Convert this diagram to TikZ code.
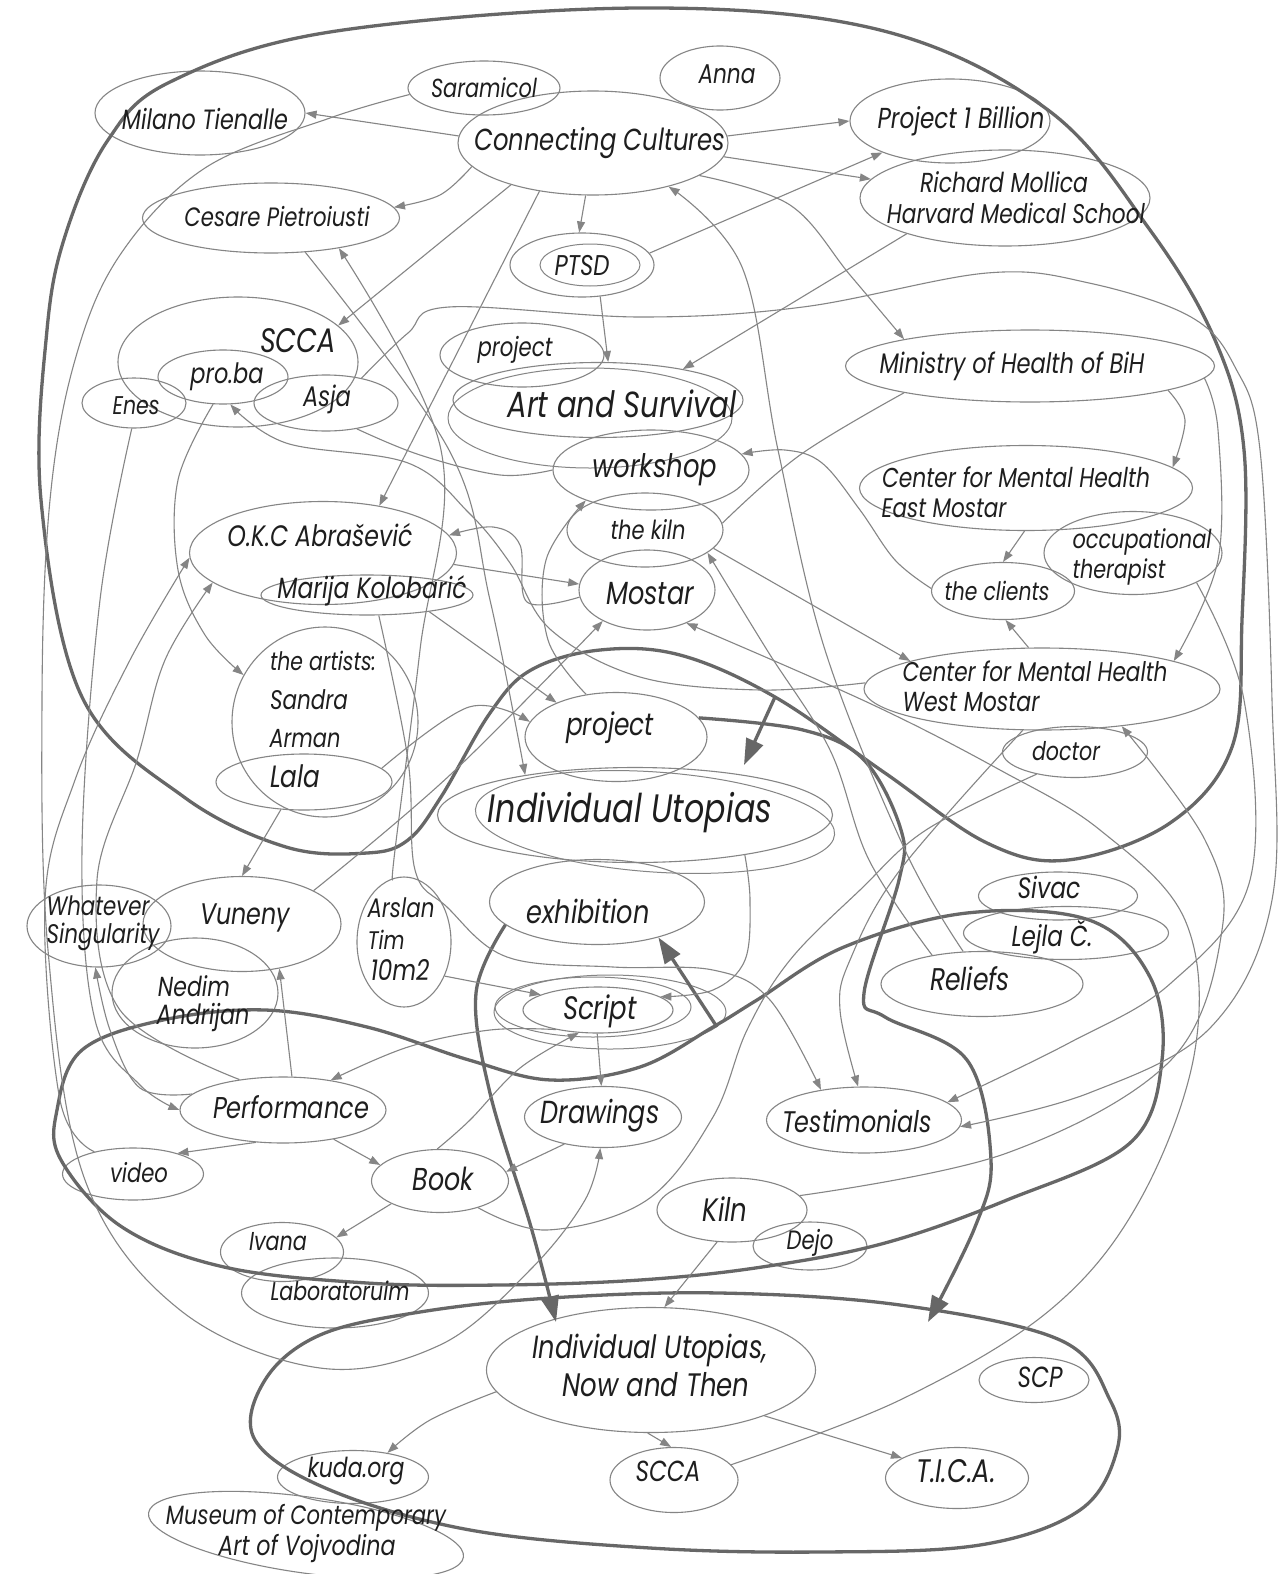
\documentclass[tikz,border=0pt]{standalone}
\usepackage{graphicx}
\usepackage{fontspec}
\setmainfont{Poppins}
\usetikzlibrary{shapes.geometric,arrows.meta}
\definecolor{ln}{HTML}{858585}
\definecolor{lk}{HTML}{676767}
\definecolor{ink}{HTML}{1E1E1E}
\newcommand{\fw}[2]{\resizebox{#1pt}{!}{\scalebox{0.8}[1]{\fontsize{24}{28}\selectfont\itshape #2}}}
\tikzset{
 blob/.style 2 args={ellipse, draw=ln, line width=1.1pt, inner sep=0pt, minimum width=#1pt, minimum height=#2pt},
 tx/.style={inner sep=0pt, text=ink},
 conn/.style={draw=ln, line width=1.1pt},
 arr/.style={-{Triangle[length=11pt,width=8pt]}},
 bound/.style={draw=lk, line width=3.3pt},
 bigarr/.style={-{Triangle[length=26pt,width=18pt]}},
 extra/.style={draw=ln, line width=1pt},
}
\begin{document}
\begin{tikzpicture}[x=1pt,y=-1pt]
\fill[white] (0,0) rectangle (1279,1574);
\path[use as bounding box] (0,0) rectangle (1279,1574);
% ---------- ellipses
\node[blob={152}{54}] (sar) at (484,88) {};
\node[blob={120}{64}] (anna) at (720,78) {};
\node[blob={210}{84}] (mil) at (200,113) {};
\node[blob={270}{104}] (cc) at (593,143) {};
\node[blob={200}{84}] (p1b) at (950,121) {};
\node[blob={290}{96}] (rich) at (1005,198) {};
\node[blob={257}{70}] (ces) at (271,218) {};
\node[blob={144}{64}] (ptsd) at (582,265) {};
\node[blob={240}{130}] (scca) at (238,362) {};
\node[blob={130}{54}] (proba) at (223,377) {};
\node[blob={144}{56}] (asja) at (326,403) {};
\node[blob={104}{50}] (enes) at (134,403) {};
\node[blob={164}{64}] (proj1) at (522,355) {};
\node[blob={290}{75}] (art) at (598,400) {};
\node[blob={369}{72}] (min) at (1030,366) {};
\node[blob={196}{80}] (work) at (651,470) {};
\node[blob={156}{74}] (kiln) at (645,530) {};
\node[blob={136}{80}] (mostar) at (647,590) {};
\node[blob={333}{85}] (ceast) at (1026,488) {};
\node[blob={178}{83}] (occ) at (1133,553) {};
\node[blob={143}{57}] (clients) at (1003,591) {};
\node[blob={267}{103}] (okc) at (323,553) {};
\node[blob={212}{40}] (marija) at (367,595) {};
\node[blob={186}{190}] (artists) at (325,722) {};
\node[blob={176}{56}] (lala) at (304,782) {};
\node[blob={356}{82}] (cwest) at (1042,689) {};
\node[blob={145}{51}] (doctor) at (1075,752) {};
\node[blob={182}{89}] (projm) at (616,737) {};
\node[blob={395}{95}] (iu) at (635,815) {};
\node[blob={215}{85}] (exh) at (597,902) {};
\node[blob={144}{82}] (what) at (99,926) {};
\node[blob={198}{95}] (vun) at (242,924) {};
\node[blob={94}{130}] (ars) at (404,942) {};
\node[blob={166}{110}] (ned) at (195,993) {};
\node[blob={150}{46}] (script) at (598,1010) {};
\node[blob={159}{48}] (sivac) at (1058,896) {};
\node[blob={205}{53}] (lejla) at (1066,933) {};
\node[blob={202}{65}] (rel) at (982,984) {};
\node[blob={206}{66}] (perf) at (283,1110) {};
\node[blob={157}{61}] (draw) at (603,1117) {};
\node[blob={195}{66}] (test) at (864,1120) {};
\node[blob={141}{52}] (video) at (133,1174) {};
\node[blob={137}{63}] (book) at (440,1181) {};
\node[blob={150}{64}] (kilnb) at (732,1210) {};
\node[blob={114}{48}] (dejo) at (810,1246) {};
\node[blob={123}{59}] (ivana) at (282,1252) {};
\node[blob={187}{70}] (lab) at (335,1293) {};
\node[blob={329}{125}] (iunt) at (651,1370) {};
\node[blob={110}{45}] (scp) at (1034,1380) {};
\node[blob={151}{53}] (kuda) at (353,1477) {};
\node[blob={128}{65}] (sccab) at (674,1480) {};
\node[blob={143}{61}] (tica) at (957,1478) {};
\node[blob={318}{76}, rotate=-8] (mus) at (306,1535) {};
% second strokes of the sketched ellipses
\draw[extra] (590,265) ellipse [x radius=50, y radius=21];
\draw[extra] (590,418) ellipse [x radius=142, y radius=50];
\draw[extra, rotate around={-4:(655,822)}] (655,822) ellipse [x radius=180, y radius=50];
\draw[extra] (593,1007) ellipse [x radius=98, y radius=30];
\draw[extra] (610,1012) ellipse [x radius=116, y radius=37];
% ---------- thick region outlines
\draw[bound] plot[smooth cycle, tension=0.6] coordinates {(640,8) (880,30) (1048,110) (1150,230) (1215,340) (1244,450) (1242,620) (1232,747) (1170,823) (1068,860) (987,843) (885,773) (775,697) (680,655) (600,650) (531,670) (490,713) (441,797) (408,840) (367,853) (286,847) (184,797) (82,697) (41,500) (47,330) (66,233) (108,140) (170,82) (330,32)};
\draw[bound] plot[smooth cycle, tension=0.6] coordinates {(640,1067) (713,1027) (757,1000) (844,947) (967,913) (1089,920) (1150,977) (1162,1060) (1130,1143) (1007,1200) (885,1243) (762,1267) (640,1280) (500,1285) (367,1283) (224,1267) (122,1227) (61,1160) (57,1110) (82,1050) (163,1020) (265,1010) (367,1027) (469,1060) (551,1080)};
\draw[bound] plot[smooth cycle, tension=0.6] coordinates {(720,1293) (900,1305) (1060,1340) (1110,1400) (1117,1450) (1080,1510) (980,1545) (820,1552) (650,1548) (470,1530) (330,1490) (255,1440) (265,1380) (320,1335) (420,1312) (550,1298)};
\coordinate (b1) at (775,697);
\coordinate (b2) at (717,1027);
\draw[bound,bigarr] (b1) -- (744,765);
\draw[bound,bigarr] (b2) -- (exh.330);
\draw[bound,bigarr] plot[smooth, tension=0.6] coordinates {(projm.13) (803,730) (864,760) (901,830) (899,880) (864,993) (885,1017) (967,1060) (991,1160) (975,1227) (928,1322)};
\draw[bound,bigarr] plot[smooth, tension=0.6] coordinates {(exh.194) (476,993) (490,1093) (531,1227) (556,1322)};
% ---------- thin connectors
\draw[conn,arr] (cc.177) -- (mil.0);
\draw[conn,arr] plot[smooth, tension=0.6] coordinates {(sar.185) (330,118) (205,168) (120,255) (75,360) (50,500) (42,700) (48,950) (85,1180) (180,1310) (320,1368) (440,1345) (530,1270) (585,1200) (draw.265)};
\draw[conn,arr] plot[smooth, tension=0.6] coordinates {(cc.191) (440,195) (ces.5)};
\draw[conn,arr] (cc.207) -- (scca.20);
\draw[conn,arr] (cc.222) -- (okc.40);
\draw[conn,arr] (cc.262) -- (ptsd.95);
\draw[conn,arr] (cc.3) -- (p1b.180);
\draw[conn,arr] (cc.354) -- (rich.172);
\draw[conn,arr] plot[smooth, tension=0.6] coordinates {(cc.343) (790,205) (850,275) (min.168)};
\draw[conn,arr] (ptsd.10) -- (p1b.205);
\draw[conn,arr] (ptsd.300) -- (art.75);
\draw[conn,arr] (rich.200) -- (art.20);
\draw[conn,arr] plot[smooth, tension=0.6] coordinates {(min.350) (1185,420) (ceast.8)};
\draw[conn,arr] plot[smooth, tension=0.6] coordinates {(min.356) (1218,430) (1218,560) (cwest.12)};
\draw[conn] plot[smooth, tension=0.6] coordinates {(min.192) (800,455) (kiln.5)};
\draw[conn,arr] (ceast.268) -- (clients.90);
\draw[conn,arr] (cwest.108) -- (clients.275);
\draw[conn,arr] plot[smooth, tension=0.6] coordinates {(clients.178) (895,560) (860,510) (822,463) (785,450) (work.10)};
\draw[conn,arr] (kiln.345) -- (cwest.168);
\draw[conn,arr] plot[smooth, tension=0.6] coordinates {(sccab.15) (900,1400) (1050,1310) (1140,1200) (1195,1050) (1185,920) (1100,830) (1000,770) (869,703) (mostar.320)};
\draw[conn,arr] plot[smooth, tension=0.6] coordinates {(kilnb.12) (1007,1153) (1171,1060) (1222,930) (1205,840) (cwest.335)};
\draw[conn] plot[smooth, tension=0.6] coordinates {(doctor.210) (926,830) (860,890) (790,960) (747,1030) (713,1117) (647,1200) (547,1230) (book.325)};
\draw[conn,arr] (marija.345) -- (projm.150);
\draw[conn,arr] plot[smooth, tension=0.6] coordinates {(lala.10) (469,707) (projm.170)};
\draw[conn,arr] (okc.355) -- (mostar.175);
\draw[conn,arr] plot[smooth, tension=0.6] coordinates {(mostar.186) (527,602) (520,545) (493,527) (okc.8)};
\draw[conn,arr] plot[smooth, tension=0.6] coordinates {(vun.25) (450,775) (mostar.215)};
\draw[conn,arr] plot[smooth, tension=0.6] coordinates {(projm.125) (548,640) (546,560) (work.205)};
\draw[conn,arr] plot[smooth, tension=0.6] coordinates {(rel.150) (869,860) (830,750) (767,650) (kiln.340)};
\draw[conn,arr] plot[smooth, tension=0.6] coordinates {(rel.120) (905,850) (825,650) (778,450) (742,267) (cc.330)};
\draw[conn,arr] plot[smooth, tension=0.6] coordinates {(proba.250) (178,480) (178,570) (205,635) (artists.150)};
\draw[conn,arr] plot[smooth, tension=0.6] coordinates {(cwest.178) (760,690) (640,677) (551,630) (510,563) (469,513) (408,463) (286,443) (proba.285)};
\draw[conn,arr] plot[smooth, tension=0.6] coordinates {(asja.35) (408,333) (449,307) (640,317) (803,307) (987,273) (1089,283) (1191,317) (1235,367) (1260,450) (1272,700) (1272,900) (1211,1027) (1089,1093) (test.356)};
\draw[conn,arr] plot[smooth, tension=0.6] coordinates {(occ.335) (1244,700) (1250,880) (1171,983) (1069,1043) (test.12)};
\draw[conn,arr] plot[smooth, tension=0.6] coordinates {(enes.265) (100,600) (82,850) (95,1020) (140,1085) (perf.180)};
\draw[conn,arr] plot[smooth, tension=0.6] coordinates {(video.150) (60,1100) (45,900) (75,780) (130,660) (okc.182)};
\draw[conn,arr] plot[smooth, tension=0.6] coordinates {(perf.145) (120,1010) (97,880) (137,760) (165,660) (okc.195)};
\draw[conn,arr] plot[smooth, tension=0.6] coordinates {(perf.170) (140,1088) (110,1030) (what.265)};
\draw[conn,arr] (perf.75) -- (vun.310);
\draw[conn,arr] (lala.230) -- (vun.90);
\draw[conn,arr] plot[smooth, tension=0.6] coordinates {(script.205) (490,1030) (408,1047) (perf.32)};
\draw[conn,arr] (ars.320) -- (script.165);
\draw[conn,arr] (script.268) -- (draw.93);
\draw[conn,arr] plot[smooth, tension=0.6] coordinates {(book.95) (470,1120) (520,1068) (script.230)};
\draw[conn,arr] (perf.230) -- (video.25);
\draw[conn,arr] (perf.330) -- (book.165);
\draw[conn,arr] (draw.215) -- (book.8);
\draw[conn,arr] (book.205) -- (ivana.15);
\draw[conn,arr] (kilnb.245) -- (iunt.78);
\draw[conn,arr] plot[smooth, tension=0.6] coordinates {(iunt.188) (430,1420) (kuda.35)};
\draw[conn,arr] (iunt.267) -- (sccab.95);
\draw[conn,arr] (iunt.338) -- (tica.160);
\draw[conn,arr] plot[smooth, tension=0.6] coordinates {(iu.340) (750,900) (745,960) (713,990) (script.12)};
\draw[conn,arr] plot[smooth, tension=0.6] coordinates {(marija.300) (408,760) (415,870) (447,907) (507,957) (613,967) (713,970) (770,1000) (test.145)};
\draw[conn,arr] plot[smooth, tension=0.6] coordinates {(cwest.245) (900,870) (850,960) (840,1010) (test.100)};
\draw[conn,arr] plot[smooth, tension=0.6] coordinates {(ars.100) (395,850) (420,650) (441,450) (ces.336)};
\draw[conn,arr] plot[smooth, tension=0.6] coordinates {(ces.315) (449,450) (490,600) (iu.160)};
\draw[conn] plot[smooth, tension=0.6] coordinates {(asja.320) (420,455) (500,475) (work.180)};
% ---------- texts
\node[tx] (t-sar) at (484,88) {\fw{106}{Saramicol}};
\node[tx] (t-anna) at (727,74) {\fw{57}{Anna}};
\node[tx] (t-mil) at (205,119) {\fw{166}{Milano Tienalle}};
\node[tx] (t-cc) at (600,143) {\fw{251}{Connecting Cultures}};
\node[tx] (t-p1b) at (961,121) {\fw{167}{Project 1 Billion}};
\node[tx] (t-rich1) at (1004,182) {\fw{168}{Richard Mollica}};
\node[tx] (t-rich2) at (1016,213) {\fw{258}{Harvard Medical School}};
\node[tx] (t-ces) at (277,217) {\fw{185}{Cesare Pietroiusti}};
\node[tx] (t-ptsd) at (582,266) {\fw{55}{PTSD}};
\node[tx] (t-scca) at (298,341) {\fw{76}{SCCA}};
\node[tx] (t-proba) at (227,377) {\fw{73}{pro.ba}};
\node[tx] (t-asja) at (327,399) {\fw{48}{Asja}};
\node[tx] (t-enes) at (136,406) {\fw{47}{Enes}};
\node[tx] (t-proj1) at (515,350) {\fw{75}{project}};
\node[tx] (t-art) at (622,404) {\fw{229}{Art and Survival}};
\node[tx] (t-min) at (1012,366) {\fw{265}{Ministry of Health of BiH}};
\node[tx] (t-work) at (655,470) {\fw{125}{workshop}};
\node[tx] (t-kiln) at (648,530) {\fw{75}{the kiln}};
\node[tx] (t-mostar) at (650,594) {\fw{88}{Mostar}};
\node[tx] (t-ceast1) at (1016,477) {\fw{268}{Center for Mental Health}};
\node[tx] (t-ceast2) at (944,508) {\fw{125}{East Mostar}};
\node[tx] (t-occ1) at (1142,542) {\fw{139}{occupational}};
\node[tx] (t-occ2) at (1119,572) {\fw{93}{therapist}};
\node[tx] (t-clients) at (997,591) {\fw{105}{the clients}};
\node[tx] (t-okc) at (320,535) {\fw{185}{O.K.C Abrašević}};
\node[tx] (t-marija) at (372,591) {\fw{189}{Marija Kolobarić}};
\node[tx] (t-art1) at (323,661) {\fw{106}{the artists:}};
\node[tx] (t-art2) at (309,700) {\fw{78}{Sandra}};
\node[tx] (t-art3) at (305,739) {\fw{71}{Arman}};
\node[tx] (t-lala) at (295,776) {\fw{50}{Lala}};
\node[tx] (t-cwest1) at (1035,671) {\fw{265}{Center for Mental Health}};
\node[tx] (t-cwest2) at (971,702) {\fw{137}{West Mostar}};
\node[tx] (t-doctor) at (1066,751) {\fw{68}{doctor}};
\node[tx] (t-projm) at (610,728) {\fw{88}{project}};
\node[tx] (t-iu) at (630,813) {\fw{284}{Individual Utopias}};
\node[tx] (t-exh) at (588,911) {\fw{123}{exhibition}};
\node[tx] (t-what1) at (98,906) {\fw{103}{Whatever}};
\node[tx] (t-what2) at (103,937) {\fw{113}{Singularity}};
\node[tx] (t-vun) at (245,918) {\fw{90}{Vuneny}};
\node[tx] (t-ars1) at (401,908) {\fw{67}{Arslan}};
\node[tx] (t-ars2) at (386,940) {\fw{37}{Tim}};
\node[tx] (t-ars3) at (400,970) {\fw{59}{10m2}};
\node[tx] (t-ned1) at (194,986) {\fw{72}{Nedim}};
\node[tx] (t-ned2) at (203,1018) {\fw{93}{Andrijan}};
\node[tx] (t-script) at (600,1011) {\fw{74}{Script}};
\node[tx] (t-sivac) at (1049,887) {\fw{63}{Sivac}};
\node[tx] (t-lejla) at (1052,937) {\fw{81}{Lejla Č.}};
\node[tx] (t-rel) at (970,979) {\fw{80}{Reliefs}};
\node[tx] (t-perf) at (291,1107) {\fw{156}{Performance}};
\node[tx] (t-draw) at (600,1116) {\fw{119}{Drawings}};
\node[tx] (t-test) at (857,1121) {\fw{150}{Testimonials}};
\node[tx] (t-video) at (139,1173) {\fw{58}{video}};
\node[tx] (t-book) at (443,1179) {\fw{61}{Book}};
\node[tx] (t-kilnb) at (725,1209) {\fw{45}{Kiln}};
\node[tx] (t-dejo) at (810,1243) {\fw{47}{Dejo}};
\node[tx] (t-ivana) at (278,1242) {\fw{58}{Ivana}};
\node[tx] (t-lab) at (340,1291) {\fw{139}{Laboratoruim}};
\node[tx] (t-iunt1) at (650,1350) {\fw{235}{Individual Utopias,}};
\node[tx] (t-iunt2) at (656,1385) {\fw{187}{Now and Then}};
\node[tx] (t-scp) at (1040,1377) {\fw{45}{SCP}};
\node[tx] (t-kuda) at (356,1471) {\fw{97}{kuda.org}};
\node[tx] (t-sccab) at (668,1471) {\fw{65}{SCCA}};
\node[tx] (t-tica) at (956,1471) {\fw{80}{T.I.C.A.}};
\node[tx] (t-mus1) at (306,1518) {\fw{280}{Museum of Contemporary}};
\node[tx] (t-mus2) at (307,1548) {\fw{177}{Art of Vojvodina}};
\end{tikzpicture}
\end{document}
